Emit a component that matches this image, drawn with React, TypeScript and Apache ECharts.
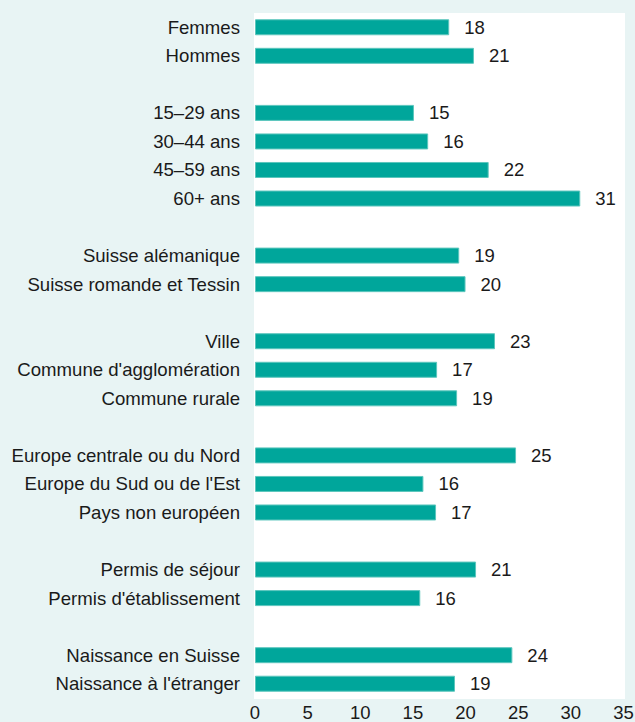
import React, { useEffect, useRef } from "react";
import * as echarts from "echarts";

const categories: string[] = [
  "Femmes", "Hommes", "",
  "15–29 ans", "30–44 ans", "45–59 ans", "60+ ans", "",
  "Suisse alémanique", "Suisse romande et Tessin", "",
  "Ville", "Commune d'agglomération", "Commune rurale", "",
  "Europe centrale ou du Nord", "Europe du Sud ou de l'Est", "Pays non européen", "",
  "Permis de séjour", "Permis d'établissement", "",
  "Naissance en Suisse", "Naissance à l'étranger",
];

const values: (number | null)[] = [
  18.45, 20.8, null,
  15.1, 16.45, 22.2, 30.9, null,
  19.4, 20.0, null,
  22.8, 17.3, 19.2, null,
  24.8, 16.0, 17.2, null,
  21.0, 15.7, null,
  24.45, 19.0,
];

const xTickStep = 5;
const xTickLast = 35;

export default function App() {
  const ref = useRef<HTMLDivElement>(null);
  useEffect(() => {
    if (!ref.current) return;
    const chart = echarts.init(ref.current, null, { renderer: "svg" });
    const font = "'Liberation Sans', Arial, Helvetica, sans-serif";
    chart.setOption({
      animation: false,
      backgroundColor: "#e8f4f4",
      graphic: [
        {
          type: "rect",
          z: -10,
          shape: { x: 254, y: 13, width: 371, height: 686 },
          style: { fill: "#ffffff" },
          silent: true,
        },
      ],
      grid: {
        left: 255,
        right: 0,
        top: 13,
        bottom: 24,
        show: false,
        containLabel: false,
        outerBoundsMode: "none",
      },
      xAxis: {
        type: "value",
        min: 0,
        max: 36.1,
        interval: xTickStep,
        axisLine: { show: false },
        axisTick: { show: false },
        splitLine: { show: false },
        axisLabel: {
          color: "#1a1a1a",
          fontSize: 18.5,
          fontFamily: font,
          margin: 5,
          hideOverlap: false,
          showMaxLabel: false,
          formatter: (v: number) =>
            v % xTickStep === 0 && v <= xTickLast ? String(v) : "",
        },
      },
      yAxis: {
        type: "category",
        data: categories,
        inverse: true,
        axisLine: { show: false },
        axisTick: { show: false },
        splitLine: { show: false },
        axisLabel: {
          color: "#1a1a1a",
          fontSize: 18.6,
          fontFamily: font,
          margin: 15,
          interval: 0,
        },
      },
      series: [
        {
          type: "bar",
          data: values,
          barWidth: 16,
          z: 2,
          itemStyle: {
            color: "#00a69b",
            borderColor: "#5cc6bd",
            borderWidth: 1,
          },
          label: {
            show: true,
            position: "right",
            distance: 15,
            color: "#1a1a1a",
            fontSize: 18.5,
            fontFamily: font,
            formatter: (p: any) => (p.value == null ? "" : String(Math.round(p.value))),
          },
        },
      ],
    });
    return () => chart.dispose();
  }, []);
  return (
    <div
      ref={ref}
      style={{ position: "absolute", left: 0, top: 0, width: 635, height: 722 }}
    />
  );
}
